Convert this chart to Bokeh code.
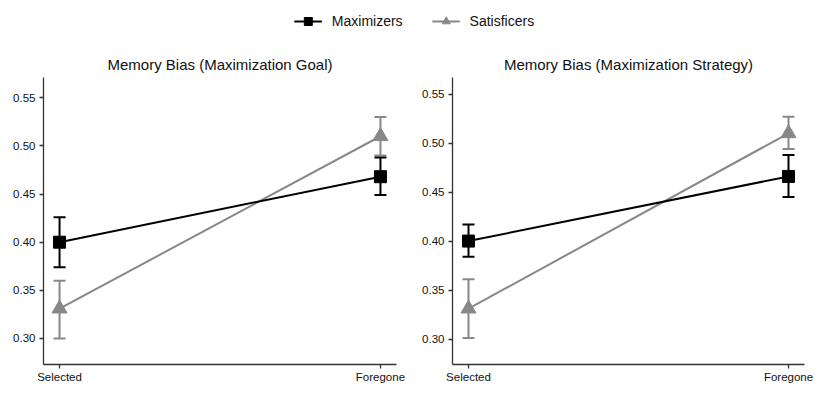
from bokeh.plotting import figure
from bokeh.models import ColumnDataSource, Whisker, TeeHead, FixedTicker, Legend, LegendItem, Range1d
from bokeh.layouts import column, row
from bokeh.embed import file_html
from bokeh.resources import INLINE

conditions = ["Selected", "Foregone"]
xpos = [0, 1]

# Panel 1: Maximization Goal
goal_max_mean = [0.400, 0.468]
goal_max_lo = [0.374, 0.449]
goal_max_hi = [0.426, 0.488]
goal_sat_mean = [0.331, 0.510]
goal_sat_lo = [0.300, 0.490]
goal_sat_hi = [0.360, 0.530]

# Panel 2: Maximization Strategy
strat_max_mean = [0.400, 0.466]
strat_max_lo = [0.384, 0.445]
strat_max_hi = [0.417, 0.488]
strat_sat_mean = [0.331, 0.510]
strat_sat_lo = [0.301, 0.494]
strat_sat_hi = [0.361, 0.527]

yticks = [0.30, 0.35, 0.40, 0.45, 0.50, 0.55]

FONT = "Liberation Sans"
MAXC = "#000000"
SATC = "#888888"
AXC = "#333333"


def panel(title, mm, mlo, mhi, sm, slo, shi, ylo, yhi, w, bl, br):
    p = figure(width=w, height=347, output_backend="svg", toolbar_location=None,
               x_range=Range1d(-0.05, 1.05), y_range=Range1d(ylo, yhi),
               min_border_left=bl, min_border_right=br, min_border_top=35,
               min_border_bottom=25, title=title)
    p.title.text_font = FONT
    p.title.text_font_size = "15px"
    p.title.text_font_style = "normal"
    p.title.align = "center"
    p.title.text_color = "#111111"
    p.title.standoff = 9
    p.outline_line_color = None
    p.grid.visible = False
    for ax in (p.xaxis[0], p.yaxis[0]):
        ax.axis_line_color = AXC
        ax.axis_line_width = 1.3
        ax.major_tick_line_color = AXC
        ax.major_tick_line_width = 1.3
        ax.major_tick_out = 4
        ax.major_tick_in = 0
        ax.minor_tick_line_color = None
        ax.major_label_text_font = FONT
        ax.major_label_text_font_size = "11.5px"
        ax.major_label_text_color = "#111111"
        ax.major_label_standoff = 4
    p.xaxis.major_label_standoff = 2
    p.xaxis.ticker = FixedTicker(ticks=xpos)
    p.xaxis.major_label_overrides = {0: conditions[0], 1: conditions[1]}
    p.yaxis.ticker = FixedTicker(ticks=yticks)
    p.yaxis.major_label_overrides = {t: f"{t:.2f}" for t in yticks}

    for mean, lo, hi, col, mk, sz in ((sm, slo, shi, SATC, "triangle", 15),
                                      (mm, mlo, mhi, MAXC, "square", 12)):
        src = ColumnDataSource(dict(x=xpos, y=mean, lo=lo, hi=hi))
        w_ = Whisker(base="x", upper="hi", lower="lo", source=src, dimension="height",
                     line_color=col, line_width=2,
                     upper_head=TeeHead(size=12, line_color=col, line_width=2),
                     lower_head=TeeHead(size=12, line_color=col, line_width=2))
        p.add_layout(w_)
        p.line("x", "y", source=src, line_color=col, line_width=2)
        p.scatter("x", "y", source=src, marker=mk, size=sz, fill_color=col, line_color=col)
    return p


p1 = panel("Memory Bias (Maximization Goal)", goal_max_mean, goal_max_lo, goal_max_hi,
           goal_sat_mean, goal_sat_lo, goal_sat_hi, 0.273, 0.571, 415, 43, 19)
p2 = panel("Memory Bias (Maximization Strategy)", strat_max_mean, strat_max_lo, strat_max_hi,
           strat_sat_mean, strat_sat_lo, strat_sat_hi, 0.274, 0.567, 413, 37, 24)

# Legend figure
lf = figure(width=828, height=42, output_backend="svg", toolbar_location=None,
            x_range=Range1d(0, 1), y_range=Range1d(0, 1),
            min_border=0)
lf.outline_line_color = None
lf.axis.visible = False
lf.grid.visible = False
r1 = lf.line([-5, -4], [-5, -4], line_color=MAXC, line_width=2)
r1m = lf.scatter([-5], [-5], marker="square", size=10, fill_color=MAXC, line_color=MAXC)
r2 = lf.line([-5, -4], [-5, -4], line_color=SATC, line_width=2)
r2m = lf.scatter([-5], [-5], marker="triangle", size=11, fill_color=SATC, line_color=SATC)
leg = Legend(items=[LegendItem(label="Maximizers", renderers=[r1, r1m]),
                    LegendItem(label="Satisficers", renderers=[r2, r2m])],
             orientation="horizontal", location="center",
             label_text_font=FONT, label_text_font_size="14px",
             label_text_color="#111111",
             border_line_color=None, background_fill_alpha=0,
             glyph_width=28, spacing=29, padding=0, margin=0, label_standoff=10)
lf.add_layout(leg, "center")

layout = column(lf, row(p1, p2))
open("out.html", "w").write(file_html(layout, INLINE))
